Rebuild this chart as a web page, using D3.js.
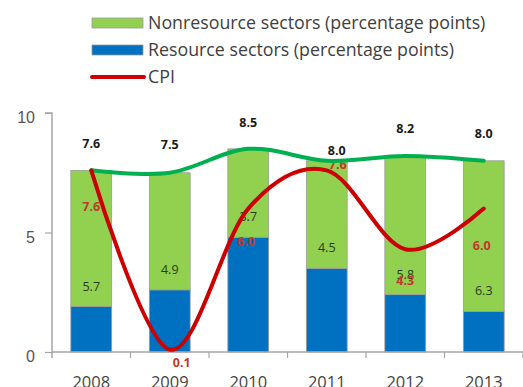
<!DOCTYPE html>
<html>
<head>
<meta charset="utf-8">
<script src="https://cdn.jsdelivr.net/npm/d3@7"></script>
<style>
  html, body { margin: 0; padding: 0; background: #fff; }
  svg { display: block; font-family: "Open Sans", Lato, sans-serif; }
</style>
</head>
<body>
<svg id="chart" width="523" height="387"></svg>
<script>
// Growth contributions by sector and consumer price inflation, per cent
const years = ["2008", "2009", "2010", "2011", "2012", "2013"];
const resource = [1.9, 2.6, 4.8, 3.5, 2.4, 1.7];
const nonresource = [5.7, 4.9, 3.7, 4.5, 5.8, 6.3];
const totalGrowth = [7.6, 7.5, 8.5, 8.0, 8.2, 8.0];
const cpi = [7.6, 0.1, 6.0, 7.6, 4.3, 6.0];
const yTicks = [0, 5, 10];

// label nudges (pixels) so the value labels avoid each other
const totalLabelShift = [[0, -27], [0, -29], [0, -27], [10, -11], [0, -28], [0, -28]];
const cpiLabelShift = [[0, 36], [12, 12], [-2, 32], [11, -6], [0, 31], [-2, 36]];

const svg = d3.select("#chart");
const left = 52;

const x = d3.scaleBand().domain(years).range([left, 523]).paddingInner(0.48).paddingOuter(0.24);
const y = d3.scaleLinear().domain([0, 10]).range([352, 113]);
const cx = d => x(d) + x.bandwidth() / 2;

const rows = years.map((yr, i) => ({
  year: yr, res: resource[i], non: nonresource[i], total: totalGrowth[i], cpi: cpi[i], i
}));

// stacked bars: resource at the bottom, nonresource on top
const stack = d3.stack().keys(["res", "non"])(rows);
const colors = { res: "#0070C0", non: "#92D050" };
svg.append("g").selectAll("g").data(stack).join("g")
  .attr("fill", s => colors[s.key])
  .selectAll("rect").data(s => s).join("rect")
  .attr("x", d => x(d.data.year))
  .attr("width", x.bandwidth())
  .attr("y", d => y(d[1]))
  .attr("height", d => y(d[0]) - y(d[1]))
  .attr("stroke", "#9a9a9a")
  .attr("stroke-width", 0.8);

// axes
const axisColor = "#a6a6a6";
const yAxis = d3.axisLeft(y).tickValues(yTicks).tickSize(7).tickPadding(10);
const gy = svg.append("g").attr("transform", `translate(${left},0)`).call(yAxis);
gy.select(".domain").attr("stroke", axisColor).attr("stroke-width", 1.5).attr("d", `M-7,${y(10)}H0V${y(0) + 6}`);
gy.selectAll(".tick line").attr("stroke", axisColor).attr("stroke-width", 1.2);
gy.selectAll(".tick text").attr("fill", "#555").attr("font-size", 16).attr("dy", "0.6em");

const gx = svg.append("g").attr("transform", `translate(0,${y(0)})`);
gx.append("line").attr("x1", left).attr("x2", 523).attr("stroke", axisColor).attr("stroke-width", 1.5);
gx.selectAll("line.tk").data(years).join("line").attr("class", "tk")
  .attr("x1", d => x(d) + x.bandwidth() + x.step() * x.paddingInner() / 2)
  .attr("x2", d => x(d) + x.bandwidth() + x.step() * x.paddingInner() / 2)
  .attr("y1", 0).attr("y2", 6).attr("stroke", axisColor).attr("stroke-width", 1.2);
gx.selectAll("text").data(years).join("text")
  .attr("x", d => cx(d)).attr("y", 36)
  .attr("text-anchor", "middle").attr("fill", "#444").attr("font-size", 16.5)
  .text(d => d);

// value labels
const lab = svg.append("g").attr("text-anchor", "middle").attr("font-size", 12.5);
lab.selectAll("text.non").data(rows).join("text").attr("class", "non")
  .attr("x", d => cx(d.year)).attr("y", d => y(d.res) - 16)
  .attr("fill", "#2b3a1a").text(d => d.non.toFixed(1));
lab.selectAll("text.tot").data(rows).join("text").attr("class", "tot")
  .attr("x", d => cx(d.year) + totalLabelShift[d.i][0]).attr("y", d => y(d.total) + totalLabelShift[d.i][1] + 5)
  .attr("fill", "#1a1a1a").attr("font-weight", "bold").text(d => d.total.toFixed(1));
lab.selectAll("text.cpi").data(rows).join("text").attr("class", "cpi")
  .attr("x", d => cx(d.year) + cpiLabelShift[d.i][0]).attr("y", d => y(d.cpi) + cpiLabelShift[d.i][1] + 5)
  .attr("fill", "#C0392B").attr("font-weight", "bold").text(d => d.cpi.toFixed(1));

// smoothed lines
const line = key => d3.line().x(d => cx(d.year)).y(d => y(d[key])).curve(d3.curveCardinal.tension(0));
svg.append("path").datum(rows).attr("d", line("total"))
  .attr("fill", "none").attr("stroke", "#00B050").attr("stroke-width", 4).attr("stroke-linecap", "round");
svg.append("path").datum(rows).attr("d", line("cpi"))
  .attr("fill", "none").attr("stroke", "#CC0000").attr("stroke-width", 4).attr("stroke-linecap", "round");

// legend
const legendItems = [
  { name: "Nonresource sectors (percentage points)", type: "rect", color: "#92D050" },
  { name: "Resource sectors (percentage points)", type: "rect", color: "#0070C0" },
  { name: "CPI", type: "line", color: "#CC0000" }
];
const lg = svg.append("g").attr("transform", "translate(92,23)");
const li = lg.selectAll("g").data(legendItems).join("g").attr("transform", (d, i) => `translate(0,${i * 27})`);
li.filter(d => d.type === "rect").append("rect")
  .attr("x", 0).attr("y", -5).attr("width", 51).attr("height", 10)
  .attr("fill", d => d.color).attr("stroke", "#9a9a9a").attr("stroke-width", 0.8);
li.filter(d => d.type === "line").append("line")
  .attr("x1", 0).attr("x2", 52).attr("stroke", d => d.color).attr("stroke-width", 4).attr("stroke-linecap", "round");
li.append("text").attr("x", 56).attr("dy", "0.35em").attr("font-size", 17.8).attr("fill", "#404040").text(d => d.name);
</script>
</body>
</html>
